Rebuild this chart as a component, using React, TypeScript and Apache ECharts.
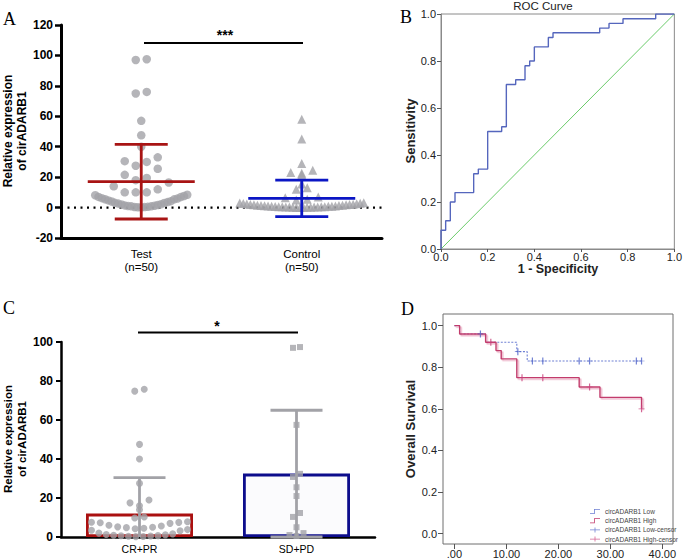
import React, { useEffect, useRef } from 'react';
import * as echarts from 'echarts';

const FONT = '"Liberation Sans", Arial, Helvetica, sans-serif';
const SERIF = '"Liberation Serif", "Times New Roman", serif';

// ---------- Panel A ----------
const groupsA = ['Test\n(n=50)', 'Control\n(n=50)'];
const testValues = [97.5, 97, 76, 75, 57, 47.5, 40, 33, 30.5, 30, 27.5, 25.5, 21.5, 19.5, 18, 16.5, 14, 12, 10, 10, 10,
  8.4, 8.1, 7.6, 7.0, 6.9, 6.2, 5.9, 5.5, 5.4, 4.7, 4.2, 4.0, 3.6, 3.1, 3.0, 2.6, 2.2, 2.1, 1.7, 1.4, 1.2, 1.0, 0.8, 0.8, 0.5, 0.4, 0.3, 0.2, 0.1];
const controlValues = [58, 45, 29, 24.5, 23, 22.5, 21.5, 15.5, 13, 12, 7, 6.5, 5.5, 5,
  3.2, 3.0, 2.9, 2.7, 2.5, 2.4, 2.2, 2.1, 2.0, 1.9, 1.8, 1.6, 1.5, 1.4, 1.3, 1.2, 1.1, 1.0, 0.9, 0.9,
  0.8, 0.7, 0.6, 0.6, 0.5, 0.5, 0.4, 0.4, 0.3, 0.3, 0.2, 0.2, 0.15, 0.1, 0.1, 0.05];
const meanA = [17, 6];
const sdA = [24.5, 12];
const colorsA = ['#A81414', '#0B16C4'];

// ---------- Panel B ----------
const rocFpr = [0, 0, 0.02, 0.04, 0.06, 0.14, 0.16, 0.2, 0.26, 0.28, 0.32, 0.36, 0.38, 0.4, 0.46, 0.48, 0.68, 0.72, 0.78, 0.92, 1.0];
const rocTpr = [0, 0.08, 0.12, 0.2, 0.24, 0.32, 0.34, 0.5, 0.52, 0.7, 0.72, 0.78, 0.8, 0.86, 0.9, 0.92, 0.94, 0.96, 0.98, 1.0, 1.0];

// ---------- Panel C ----------
const groupsC = ['CR+PR', 'SD+PD'];
const crprValues = [75.8, 74.8, 47.5, 40, 27.5, 19, 17.5, 16, 14, 10.3, 9.7, 7.8, 7.6, 7.5, 7.3, 7.0, 6.0, 5.6, 5.2, 5.0,
  4.8, 4.5, 4.2, 3.8, 3.5, 3.2, 2.0, 1.6, 1.3, 1.1, 0.9, 0.7, 0.6, 0.5, 0.4, 0.3, 0.2];
const sdpdValues = [97.4, 97.0, 57.5, 32.4, 30.8, 25.5, 21, 12.3, 10.3, 5, 2, 1, 0.5];
const meanC = [12, 32.5];
const sdC = [18.5, 32.5];
const barBorderC = ['#AA1010', '#0D0D8C'];

// ---------- Panel D ----------
const kmLowTime = [0, 1, 6, 12, 14, 36];
const kmLowSurv = [1, 0.96, 0.92, 0.875, 0.83, 0.83];
const kmHighTime = [0, 1, 6, 8, 9, 12, 24, 28, 36];
const kmHighSurv = [1, 0.96, 0.92, 0.88, 0.84, 0.75, 0.705, 0.655, 0.6];
const censorLowTime = [5, 12.2, 15, 17, 24, 26, 35, 36];
const censorLowSurv = [0.96, 0.875, 0.83, 0.83, 0.83, 0.83, 0.83, 0.83];
const censorHighTime = [7, 13, 17, 26, 36];
const censorHighSurv = [0.92, 0.75, 0.75, 0.705, 0.6];
const kmTicks = [0, 10, 20, 30, 40];
const survTicks = [0, 0.2, 0.4, 0.6, 0.8, 1.0];
const legendD = ['circADARB1 Low', 'circADARB1 High', 'circADARB1 Low-censor', 'circADARB1 High-censor'];

// bin-based dot layout (GraphPad-style scatter dot plot), offsets in px
function binLayout(values: number[], bin: number, spacing: number, halfWidth: number): number[] {
  const bins = new Map<number, number[]>();
  values.forEach((v, i) => {
    const k = Math.floor(v / bin);
    if (!bins.has(k)) bins.set(k, []);
    bins.get(k)!.push(i);
  });
  const off = new Array(values.length).fill(0);
  bins.forEach((idx) => {
    idx.sort((a, b) => values[a] - values[b]);
    const n = idx.length;
    const s = n > 1 ? Math.min(spacing, (2 * halfWidth) / (n - 1)) : 0;
    const slots = Array.from({ length: n }, (_, k) => (k - (n - 1) / 2) * s);
    slots.sort((a, b) => Math.abs(a) - Math.abs(b) || a - b);
    idx.forEach((vi, k) => { off[vi] = slots[k]; });
  });
  return off;
}

function dots(values: number[], group: number, gridW: number, bin: number, spacing: number, halfW: number) {
  const off = binLayout(values, bin, spacing, halfW);
  return values.map((v, i) => [group + off[i] / (gridW / 2), v]);
}

const GA = { left: 61, top: 25, width: 321, height: 213 };
const GB = { left: 441, top: 14, width: 237, height: 235 };
const GC = { left: 61, top: 342, width: 314, height: 195 };
const GD = { left: 443, top: 314, width: 230, height: 230 };

const plusPath = 'path://M4,0H6V4.5H10V5.5H6V10H4V5.5H0V4.5H4Z';
const stepIcon = 'path://M0,4.2H4V0H10V0.8H4.8V5H0Z';
const plusIcon = 'path://M0,2.1H4.6V0H5.4V2.1H10V2.9H5.4V5H4.6V2.9H0Z';

function errorRenderer(colors: string[], mHalf: number, capHalf: number, lw: number, clipMin: number | null) {
  return (params: any, api: any) => {
    const g = api.value(0), m = api.value(1), sd = api.value(2);
    const c = api.coord([g, m]);
    const top = api.coord([g, m + sd]);
    const lowVal = clipMin !== null ? Math.max(m - sd, clipMin) : m - sd;
    const bot = api.coord([g, lowVal]);
    const col = colors[params.dataIndex % colors.length];
    const children: any[] = [];
    if (mHalf > 0) children.push({ type: 'line', shape: { x1: c[0] - mHalf, y1: c[1], x2: c[0] + mHalf, y2: c[1] }, style: { stroke: col, lineWidth: lw } });
    children.push({ type: 'line', shape: { x1: c[0], y1: top[1], x2: c[0], y2: bot[1] }, style: { stroke: col, lineWidth: lw } });
    children.push({ type: 'line', shape: { x1: c[0] - capHalf, y1: top[1], x2: c[0] + capHalf, y2: top[1] }, style: { stroke: col, lineWidth: lw } });
    if (clipMin === null || m - sd >= clipMin) children.push({ type: 'line', shape: { x1: c[0] - capHalf, y1: bot[1], x2: c[0] + capHalf, y2: bot[1] }, style: { stroke: col, lineWidth: lw } });
    return { type: 'group', children };
  };
}

export default function App() {
  const ref = useRef<HTMLDivElement>(null);
  useEffect(() => {
    if (!ref.current) return;
    const chart = echarts.init(ref.current, undefined, { renderer: 'svg' });
    const grey = '#A2A2A7';
    const option: any = {
      animation: false,
      backgroundColor: '#fff',
      textStyle: { fontFamily: FONT },
      grid: [
        { ...GA, containLabel: false },
        { ...GB, show: true, borderColor: '#8a8a8a', borderWidth: 1, backgroundColor: 'transparent' },
        { ...GC },
        { ...GD, show: true, borderColor: '#6f6f6f', borderWidth: 1, backgroundColor: 'transparent' },
      ],
      xAxis: [
        {
          type: 'category', gridIndex: 0, data: groupsA,
          axisLine: { onZero: false, lineStyle: { color: '#000', width: 3 } },
          axisTick: { alignWithLabel: true, length: 5, lineStyle: { width: 2, color: '#000' } },
          axisLabel: { color: '#000', fontSize: 11.5, lineHeight: 13.5, margin: 9, fontFamily: FONT },
        },
        { type: 'value', gridIndex: 0, min: -0.5, max: 1.5, show: false, axisLine: { onZero: false } },
        {
          type: 'value', gridIndex: 1, min: 0, max: 1, interval: 0.2,
          axisLine: { show: true, onZero: false, lineStyle: { color: '#8a8a8a', width: 1 } },
          axisTick: { show: true, length: 3, lineStyle: { color: '#555' } },
          splitLine: { show: false },
          axisLabel: { color: '#222', fontSize: 11, margin: 2, formatter: (v: number) => v.toFixed(1), fontFamily: FONT },
        },
        {
          type: 'category', gridIndex: 2, data: groupsC,
          axisLine: { onZero: false, lineStyle: { color: '#000', width: 2.5 } },
          axisTick: { alignWithLabel: true, length: 4, lineStyle: { width: 2, color: '#000' } },
          axisLabel: { color: '#000', fontSize: 10.5, margin: 6, fontFamily: FONT },
        },
        { type: 'value', gridIndex: 2, min: -0.5, max: 1.5, show: false, axisLine: { onZero: false } },
        {
          type: 'value', gridIndex: 3, min: -2.2, max: 42.05,
          axisLine: { show: false, onZero: false },
          axisTick: { show: true, length: 5, customValues: kmTicks, lineStyle: { color: '#555' } },
          splitLine: { show: false },
          axisLabel: { color: '#222', fontSize: 11, margin: 4, customValues: kmTicks, formatter: (v: number) => (v === 0 ? '.00' : v.toFixed(2)), fontFamily: FONT },
        },
      ],
      yAxis: [
        {
          type: 'value', gridIndex: 0, min: -20, max: 120, interval: 20,
          axisLine: { show: true, onZero: false, lineStyle: { color: '#000', width: 3 } },
          axisTick: { show: true, length: 6, lineStyle: { width: 2.5, color: '#000' } },
          splitLine: { show: false },
          axisLabel: { color: '#000', fontSize: 12, fontWeight: 'bold', margin: 8, fontFamily: FONT },
        },
        {
          type: 'value', gridIndex: 1, min: 0, max: 1, interval: 0.2,
          axisLine: { show: true, onZero: false, lineStyle: { color: '#8a8a8a', width: 1 } },
          axisTick: { show: true, length: 4, lineStyle: { color: '#555' } },
          splitLine: { show: false },
          axisLabel: { color: '#222', fontSize: 11, margin: 5, formatter: (v: number) => v.toFixed(1), fontFamily: FONT },
        },
        {
          type: 'value', gridIndex: 2, min: 0, max: 100, interval: 20,
          axisLine: { show: true, onZero: false, lineStyle: { color: '#000', width: 2.5 } },
          axisTick: { show: true, length: 5, lineStyle: { width: 2, color: '#000' } },
          splitLine: { show: false },
          axisLabel: { color: '#000', fontSize: 12, fontWeight: 'bold', margin: 8, fontFamily: FONT },
        },
        {
          type: 'value', gridIndex: 3, min: -0.05, max: 1.056,
          axisLine: { show: false, onZero: false },
          axisTick: { show: true, length: 5, customValues: survTicks, lineStyle: { color: '#555' } },
          splitLine: { show: false },
          axisLabel: { color: '#222', fontSize: 11, margin: 6, customValues: survTicks, formatter: (v: number) => v.toFixed(1), fontFamily: FONT },
        },
      ],
      legend: {
        data: legendD.map((n, i) => ({ name: n, icon: i < 2 ? stepIcon : plusIcon })),
        orient: 'vertical', left: 585, top: 503, itemWidth: 10, itemHeight: 5, itemGap: 2.2,
        textStyle: { fontSize: 6.5, color: '#444', fontFamily: FONT },
        selectedMode: false,
      },
      series: [
        // Panel A
        {
          type: 'line', xAxisIndex: 1, yAxisIndex: 0, data: [[-0.5, 0], [1.5, 0]], symbol: 'none', z: 1,
          lineStyle: { color: '#000', width: 2.2, type: [2, 4.5] }, silent: true,
        },
        {
          type: 'scatter', xAxisIndex: 1, yAxisIndex: 0, symbol: 'circle', symbolSize: 8.5, z: 2,
          itemStyle: { color: grey }, data: dots(testValues, 0, GA.width, 9, 11, 46),
        },
        {
          type: 'scatter', xAxisIndex: 1, yAxisIndex: 0, symbol: 'triangle', symbolSize: 9, z: 2,
          itemStyle: { color: grey }, data: dots(controlValues, 1, GA.width, 4.5, 11, 62),
        },
        {
          type: 'custom', xAxisIndex: 0, yAxisIndex: 0, z: 3, clip: false,
          renderItem: errorRenderer(colorsA, 53.5, 26.5, 2.8, null),
          data: meanA.map((m, i) => [i, m, sdA[i]]),
        },
        // Panel B
        {
          type: 'line', xAxisIndex: 2, yAxisIndex: 1, step: 'end', symbol: 'none', z: 3,
          lineStyle: { color: '#5566BD', width: 1.4 },
          data: rocFpr.map((x, i) => [x, rocTpr[i]]),
        },
        {
          type: 'line', xAxisIndex: 2, yAxisIndex: 1, symbol: 'none', z: 2,
          lineStyle: { color: '#6ACB6A', width: 1 },
          data: [[0, 0], [1, 1]],
        },
        // Panel C
        {
          type: 'bar', xAxisIndex: 3, yAxisIndex: 2, barWidth: 107, z: 1,
          data: meanC.map((m, i) => ({ value: m, itemStyle: { color: i === 0 ? '#ffffff' : '#FBFBFD', borderColor: barBorderC[i], borderWidth: 2.8 } })),
        },
        {
          type: 'scatter', xAxisIndex: 4, yAxisIndex: 2, symbol: 'circle', symbolSize: 7, z: 2,
          itemStyle: { color: grey }, data: dots(crprValues, 0, GC.width, 4, 9.5, 48),
        },
        {
          type: 'scatter', xAxisIndex: 4, yAxisIndex: 2, symbol: 'rect', symbolSize: 6, z: 2,
          itemStyle: { color: grey }, data: dots(sdpdValues, 1, GC.width, 2.5, 7, 10),
        },
        {
          type: 'custom', xAxisIndex: 3, yAxisIndex: 2, z: 3, clip: false,
          renderItem: errorRenderer([grey, grey], 0, 26, 2.8, 0),
          data: meanC.map((m, i) => [i, m, sdC[i]]),
        },
        // Panel D
        {
          name: legendD[0], type: 'line', xAxisIndex: 5, yAxisIndex: 3, step: 'end', symbol: 'none', z: 2,
          lineStyle: { color: '#6F80D4', width: 1.1, type: [2, 1.5] }, itemStyle: { color: '#6F80D4' },
          data: kmLowTime.map((t, i) => [t, kmLowSurv[i]]),
        },
        {
          name: legendD[1], type: 'line', xAxisIndex: 5, yAxisIndex: 3, step: 'end', symbol: 'none', z: 3,
          lineStyle: { color: '#C23B6C', width: 1.4, shadowColor: 'rgba(230,150,180,0.8)', shadowOffsetX: 1.5, shadowOffsetY: 1.5, shadowBlur: 0 },
          itemStyle: { color: '#C23B6C' },
          data: kmHighTime.map((t, i) => [t, kmHighSurv[i]]),
        },
        {
          name: legendD[2], type: 'scatter', xAxisIndex: 5, yAxisIndex: 3, symbol: plusPath, symbolSize: [6, 7], z: 4,
          itemStyle: { color: '#4F63C8' },
          data: censorLowTime.map((t, i) => [t, censorLowSurv[i]]),
        },
        {
          name: legendD[3], type: 'scatter', xAxisIndex: 5, yAxisIndex: 3, symbol: plusPath, symbolSize: [6, 7], z: 4,
          itemStyle: { color: '#C8407A' },
          data: censorHighTime.map((t, i) => [t, censorHighSurv[i]]),
        },
      ],
      graphic: [
        { type: 'text', left: 3, top: 10, style: { text: 'A', font: `18px ${SERIF}`, fill: '#000' } },
        { type: 'text', left: 400, top: 8, style: { text: 'B', font: `18px ${SERIF}`, fill: '#000' } },
        { type: 'text', left: 3, top: 299, style: { text: 'C', font: `18px ${SERIF}`, fill: '#000' } },
        { type: 'text', left: 401, top: 300, style: { text: 'D', font: `18px ${SERIF}`, fill: '#000' } },
        { type: 'text', x: 543, y: 6, style: { text: 'ROC Curve', font: `11.5px ${FONT}`, fill: '#222', align: 'center', verticalAlign: 'middle' } },
        { type: 'text', x: 558, y: 269, style: { text: '1 - Specificity', font: `bold 12.5px ${FONT}`, fill: '#222', align: 'center', verticalAlign: 'middle' } },
        { type: 'text', x: 410, y: 131, rotation: Math.PI / 2, style: { text: 'Sensitivity', font: `bold 13px ${FONT}`, fill: '#222', align: 'center', verticalAlign: 'middle' } },
        { type: 'text', x: 410, y: 429, rotation: Math.PI / 2, style: { text: 'Overall Survival', font: `bold 13px ${FONT}`, fill: '#222', align: 'center', verticalAlign: 'middle' } },
        { type: 'text', x: 15, y: 131, rotation: Math.PI / 2, style: { text: 'Relative expression\nof cirADARB1', font: `bold 12px ${FONT}`, lineHeight: 14, fill: '#000', align: 'center', verticalAlign: 'middle' } },
        { type: 'text', x: 15, y: 439, rotation: Math.PI / 2, style: { text: 'Relative expression\nof cirADARB1', font: `bold 11.5px ${FONT}`, lineHeight: 14, fill: '#000', align: 'center', verticalAlign: 'middle' } },
        { type: 'line', shape: { x1: 144, y1: 43, x2: 303, y2: 43 }, style: { stroke: '#000', lineWidth: 2 } },
        { type: 'text', x: 225, y: 35, style: { text: '***', font: `bold 14px ${FONT}`, fill: '#000', align: 'center', verticalAlign: 'middle' } },
        { type: 'line', shape: { x1: 138, y1: 332.5, x2: 298, y2: 332.5 }, style: { stroke: '#000', lineWidth: 2 } },
        { type: 'text', x: 217, y: 326, style: { text: '*', font: `bold 14px ${FONT}`, fill: '#000', align: 'center', verticalAlign: 'middle' } },
      ],
    };
    chart.setOption(option);
    return () => chart.dispose();
  }, []);
  return <div ref={ref} style={{ position: 'fixed', left: 0, top: 0, width: 685, height: 560, background: '#fff' }} />;
}
